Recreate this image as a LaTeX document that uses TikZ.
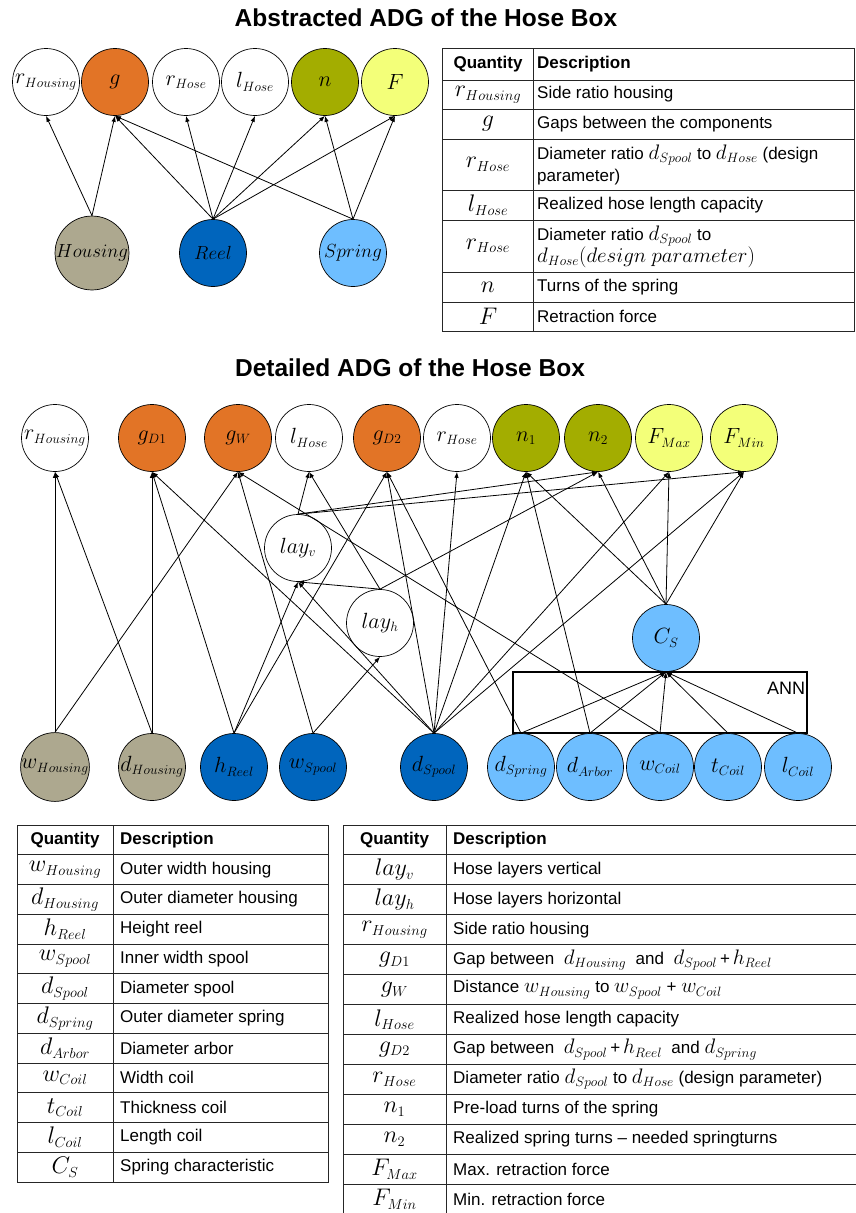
\RequirePackage{fix-cm}
\documentclass[tikz,border=0pt]{standalone}
\usepackage[no-math]{fontspec}
\setmainfont{Liberation Sans}
\usetikzlibrary{arrows.meta}

\definecolor{cOrange}{RGB}{226,116,38}
\definecolor{cOlive}{RGB}{163,173,0}
\definecolor{cYellow}{RGB}{243,255,121}
\definecolor{cTaupe}{RGB}{173,168,143}
\definecolor{cBlue}{RGB}{0,101,189}
\definecolor{cSky}{RGB}{110,190,255}

% math sizes: large symbols with comparatively small subscripts
\DeclareMathSizes{18}{22}{13.5}{10}
\DeclareMathSizes{20}{24}{14.5}{11}
\DeclareMathSizes{19}{21}{13.5}{10}
\DeclareMathSizes{16}{19}{13}{10}

\newcommand\nodefont{\fontsize{18}{20}\selectfont}
\newcommand\wordfont{\fontsize{16}{18}\selectfont}
\newcommand\tabfont{\fontsize{17}{22}\selectfont}
\newcommand\qfont{\fontsize{20}{22}\selectfont}
\newcommand\titlefont{\fontsize{24.5}{28}\selectfont\bfseries}
% inline quantity inside a description
\newcommand\qm[1]{{\fontsize{19}{22}\selectfont$#1$}}

\begin{document}
\begin{tikzpicture}[x=1pt,y=-1pt,
  var/.style={circle,draw=black,line width=0.7pt,minimum size=67pt,inner sep=0pt,font=\nodefont,fill=white},
  edge/.style={line width=0.8pt,-{Latex[length=6pt,width=4.5pt]}},
  grid/.style={line width=0.9pt,draw=black!85},
  title/.style={font=\titlefont},
  hd/.style={font=\tabfont\bfseries,inner sep=0pt},
  qc/.style={font=\qfont,inner sep=0pt},
  ds/.style={font=\tabfont,anchor=west,align=left,inner sep=0pt},
]
\useasboundingbox (0,0) rectangle (856,1213);

% ---------------- abstracted graph ----------------
\node[title] (t1) at (426,18) {Abstracted ADG of the Hose Box};

\node[var] (aRHousing) at (46,82)  {$r_{Housing}$};
\node[var,fill=cOrange] (aG) at (115,82) {$g$};
\node[var] (aRHose)  at (186,82) {$r_{Hose}$};
\node[var] (aLHose)  at (255,82) {$l_{Hose}$};
\node[var,fill=cOlive]  (aN) at (325,82) {$n$};
\node[var,fill=cYellow] (aF) at (395,82) {$F$};

\node[var,fill=cTaupe,font=\wordfont] (aHousing) at (92,253)  {$Housing$};
\node[var,fill=cBlue,font=\wordfont]  (aReel)    at (213,253) {$Reel$};
\node[var,fill=cSky,font=\wordfont]   (aSpring)  at (353,253) {$Spring$};

\foreach \t in {aRHousing,aG}
  \draw[edge] (aHousing.north) -- (\t.south);
\foreach \t in {aG,aRHose,aLHose,aN,aF}
  \draw[edge] (aReel.north) -- (\t.south);
\foreach \t in {aG,aN,aF}
  \draw[edge] (aSpring.north) -- (\t.south);

% ---------------- abstracted table ----------------
\draw[grid] (442,48) rectangle (854,331);
\draw[grid] (533,48) -- (533,331);
\foreach \y in {80,109,139,190,220,272,302}
  \draw[grid] (442,\y) -- (854,\y);

\node[hd] (a0q) at (488,64) {Quantity};
\node[hd,anchor=west] (a0d) at (537,64) {Description};
\node[qc] (a1q) at (488,94.5) {$r_{Housing}$};
\node[ds] (a1d) at (537,94.5) {Side ratio housing};
\node[qc] (a2q) at (488,124) {$g$};
\node[ds] (a2d) at (537,124) {Gaps between the components};
\node[qc] (a3q) at (488,164.5) {$r_{Hose}$};
\node[ds] (a3d) at (537,164.5) {Diameter ratio \qm{d_{Spool}} to \qm{d_{Hose}} (design\\parameter)};
\node[qc] (a4q) at (488,205) {$l_{Hose}$};
\node[ds] (a4d) at (537,205) {Realized hose length capacity};
\node[qc] (a5q) at (488,246) {$r_{Hose}$};
\node[ds] (a5d) at (537,247) {Diameter ratio \qm{d_{Spool}} to\\\qm{d_{Hose}(design\ parameter)}};
\node[qc] (a6q) at (488,287) {$n$};
\node[ds] (a6d) at (537,287) {Turns of the spring};
\node[qc] (a7q) at (488,316.5) {$F$};
\node[ds] (a7d) at (537,316.5) {Retraction force};

% ---------------- detailed graph ----------------
\node[title] (t2) at (410,368) {Detailed ADG of the Hose Box};

\node[var] (rHousing) at (55,438)  {$r_{Housing}$};
\node[var,fill=cOrange] (gD1) at (152,438) {$g_{D1}$};
\node[var,fill=cOrange] (gW)  at (238,438) {$g_{W}$};
\node[var] (lHose) at (309,438) {$l_{Hose}$};
\node[var,fill=cOrange] (gD2) at (387,438) {$g_{D2}$};
\node[var] (rHose) at (457,438) {$r_{Hose}$};
\node[var,fill=cOlive] (n1) at (526,438) {$n_1$};
\node[var,fill=cOlive] (n2) at (598,438) {$n_2$};
\node[var,fill=cYellow] (FMax) at (669,438) {$F_{Max}$};
\node[var,fill=cYellow] (FMin) at (744,438) {$F_{Min}$};

\node[var] (layv) at (298,548) {$lay_v$};
\node[var] (layh) at (380,623) {$lay_h$};
\node[var,fill=cSky] (CS) at (666,638) {$C_S$};

\draw[line width=2.2pt] (513,672) rectangle (807,733);
\node[font=\fontsize{18}{20}\selectfont,inner sep=0pt] (ann) at (786,688) {ANN};

\node[var,fill=cTaupe] (wHousing) at (55,767)  {$w_{Housing}$};
\node[var,fill=cTaupe] (dHousing) at (152,767) {$d_{Housing}$};
\node[var,fill=cBlue] (hReel)  at (234,767) {$h_{Reel}$};
\node[var,fill=cBlue] (wSpool) at (313,767) {$w_{Spool}$};
\node[var,fill=cBlue] (dSpool) at (434,767) {$d_{Spool}$};
\node[var,fill=cSky] (dSpring) at (521,767) {$d_{Spring}$};
\node[var,fill=cSky] (dArbor)  at (590,767) {$d_{Arbor}$};
\node[var,fill=cSky] (wCoil)   at (660,767) {$w_{Coil}$};
\node[var,fill=cSky] (tCoil)   at (728,767) {$t_{Coil}$};
\node[var,fill=cSky] (lCoil)   at (798,767) {$l_{Coil}$};

\foreach \s/\t in {wHousing/rHousing, wHousing/gW,
    dHousing/gD1, dHousing/rHousing,
    hReel/gD1, hReel/layv, hReel/gD2,
    wSpool/gW, wSpool/layh,
    dSpool/gD1, dSpool/layv, dSpool/gD2, dSpool/rHose, dSpool/n1, dSpool/FMax, dSpool/FMin,
    dSpring/gD2, dSpring/CS, dArbor/n1, dArbor/CS, wCoil/gW, wCoil/CS, tCoil/CS, lCoil/CS,
    layv/lHose, layv/n2, layv/FMin,
    layh/layv, layh/lHose, layh/n2,
    CS/n1, CS/n2, CS/FMax, CS/FMin}
  \draw[edge] (\s.north) -- (\t.south);

% ---------------- table of the inputs ----------------
\draw[grid] (17,825) rectangle (328,1182);
\draw[grid] (113,825) -- (113,1182);
\foreach \i in {1,...,11}
  \draw[grid] (17,825+29.75*\i) -- (328,825+29.75*\i);

\node[hd] (b0q) at (65,840) {Quantity};
\node[hd,anchor=west] (b0d) at (120,840) {Description};
\foreach \i/\q/\d in {1/w_{Housing}/Outer width housing,
    2/d_{Housing}/Outer diameter housing,
    3/h_{Reel}/Height reel,
    4/w_{Spool}/Inner width spool,
    5/d_{Spool}/Diameter spool,
    6/d_{Spring}/Outer diameter spring,
    7/d_{Arbor}/Diameter arbor,
    8/w_{Coil}/Width coil,
    9/t_{Coil}/Thickness coil,
    10/l_{Coil}/Length coil,
    11/C_S/Spring characteristic}{
  \node[qc] (b\i q) at (65,839.9+29.75*\i) {$\q$};
  \node[ds] (b\i d) at (120,839.9+29.75*\i) {\d};
}

% ---------------- table of the derived quantities ----------------
\draw[grid] (343,825) -- (856,825);
\draw[grid] (343,825) -- (343,1213);
\draw[grid] (446,825) -- (446,1213);
\foreach \i in {1,...,12}
  \draw[grid] (343,825+29.92*\i) -- (856,825+29.92*\i);

\node[hd] (c0q) at (394.5,840) {Quantity};
\node[hd,anchor=west] (c0d) at (453,840) {Description};
\foreach \i/\q/\d in {1/lay_v/Hose layers vertical,
    2/lay_h/Hose layers horizontal,
    3/r_{Housing}/Side ratio housing,
    4/g_{D1}/{Gap between\ \ \qm{d_{Housing}}\ \ and\ \ \qm{d_{Spool}}\,+\,\qm{h_{Reel}}},
    5/g_{W}/{Distance \qm{w_{Housing}} to \qm{w_{Spool}} + \qm{w_{Coil}}},
    6/l_{Hose}/Realized hose length capacity,
    7/g_{D2}/{Gap between\ \ \qm{d_{Spool}}\,+\,\qm{h_{Reel}}\ \ and \qm{d_{Spring}}},
    8/r_{Hose}/{Diameter ratio \qm{d_{Spool}} to \qm{d_{Hose}} (design parameter)},
    9/n_1/Pre-load turns of the spring,
    10/n_2/Realized spring turns – needed springturns,
    11/F_{Max}/Max. retraction force,
    12/F_{Min}/Min. retraction force}{
  \node[qc] (c\i q) at (394.5,840+29.92*\i) {$\q$};
  \node[ds] (c\i d) at (453,840+29.92*\i) {\d};
}
\end{tikzpicture}
\end{document}
